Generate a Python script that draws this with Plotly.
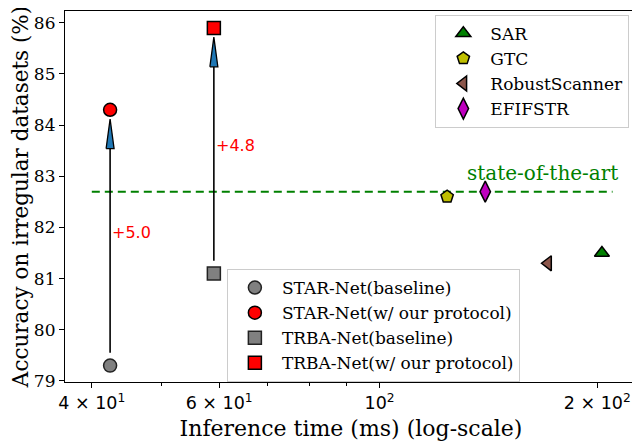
import math

import plotly.graph_objects as go

# ── Data ──
base_names = ["STAR-Net", "TRBA-Net"]
base_time = [42.4, 59.0]
base_acc = [79.3, 81.1]
ours_acc = [84.3, 85.9]
base_symbols = ["circle", "square"]

other_names = ["SAR", "GTC", "RobustScanner", "EFIFSTR"]
other_time = [203.0, 124.0, 171.0, 140.0]
other_acc = [81.5, 82.6, 81.3, 82.7]
other_symbols = ["triangle-up", "pentagon", "triangle-left", "diamond-tall"]
other_colors = ["#008000", "#bfbf00", "#8c564b", "#bf00bf"]

sota_acc = 82.7
sota_span = [40.0, 210.0]

x_tickvals = [40, 60, 100, 200]
x_ticktext = ["4 × 10<sup>1</sup>", "6 × 10<sup>1</sup>",
              "10<sup>2</sup>", "2 × 10<sup>2</sup>"]
x_minor = [50, 70, 80, 90]
y_tickvals = [79, 80, 81, 82, 83, 84, 85, 86]

SERIF = "DejaVu Serif"
SANS = "DejaVu Sans"

fig = go.Figure()

# ── state-of-the-art line ──
fig.add_trace(go.Scatter(
    x=sota_span, y=[sota_acc, sota_acc], mode="lines",
    line=dict(color="#008000", width=2, dash="8px,5px"),
    showlegend=False, hoverinfo="skip",
))

# ── improvement arrows (shaft + blue head) ──
head_len = 0.58
half_w = 0.0055  # decades
for xt, y0, y1 in zip(base_time, base_acc, ours_acc):
    start = y0 + 0.25
    tip = y1 - 0.18
    fig.add_trace(go.Scatter(
        x=[xt, xt], y=[start, tip - head_len], mode="lines",
        line=dict(color="black", width=1.6),
        showlegend=False, hoverinfo="skip",
    ))
    fig.add_trace(go.Scatter(
        x=[xt * 10 ** -half_w, xt, xt * 10 ** half_w, xt * 10 ** -half_w],
        y=[tip - head_len, tip, tip - head_len, tip - head_len],
        mode="lines", fill="toself", fillcolor="#1f77b4",
        line=dict(color="black", width=1.3),
        showlegend=False, hoverinfo="skip",
    ))

# ── other methods (legend 1) ──
for name, xt, acc, sym, col in zip(other_names, other_time, other_acc, other_symbols, other_colors):
    fig.add_trace(go.Scatter(
        x=[xt], y=[acc], mode="markers", name=name,
        marker=dict(symbol=sym, size=13 if sym != "diamond-tall" else 15, color=col,
                    line=dict(color="black", width=1.5)),
        legend="legend",
    ))

# ── baselines / ours (legend 2) ──
for name, xt, y0, y1, sym in zip(base_names, base_time, base_acc, ours_acc, base_symbols):
    fig.add_trace(go.Scatter(
        x=[xt], y=[y0], mode="markers", name=f"{name}(baseline)",
        marker=dict(symbol=sym, size=13, color="#808080",
                    line=dict(color="#222222", width=1.5)),
        legend="legend2",
    ))
    fig.add_trace(go.Scatter(
        x=[xt], y=[y1], mode="markers", name=f"{name}(w/ our protocol)",
        marker=dict(symbol=sym, size=13, color="#ff0000",
                    line=dict(color="black", width=1.5)),
        legend="legend2",
    ))

# gain labels
for xt, y0, y1, ylab in zip(base_time, base_acc, ours_acc, [81.9, 83.6]):
    fig.add_annotation(
        x=math.log10(xt), y=ylab, text=f"+{y1 - y0:.1f}", showarrow=False,
        xanchor="left", yanchor="middle", xshift=0,
        font=dict(family=SANS, size=16, color="#ff0000"),
    )

fig.add_annotation(
    x=math.log10(sota_span[1]), y=sota_acc, text="state-of-the-art", showarrow=False,
    xanchor="right", yanchor="bottom", xshift=7, yshift=5,
    font=dict(family=SERIF, size=20, color="#008000"),
)

fig.update_xaxes(
    type="log", range=[1.565, 2.356], automargin=False,
    tickvals=x_tickvals, ticktext=x_ticktext,
    ticks="outside", ticklen=5, tickwidth=1, tickcolor="black",
    minor=dict(tickvals=x_minor, ticks="outside", ticklen=3, tickcolor="black"),
    showline=True, linecolor="black", linewidth=1.2, mirror=True,
    showgrid=False, zeroline=False,
    tickfont=dict(family=SANS, size=17.5, color="black"),
    title=dict(text="Inference time (ms) (log-scale)", standoff=8,
               font=dict(family=SERIF, size=22, color="black")),
)
fig.update_yaxes(
    range=[78.98, 86.23], tickvals=y_tickvals, automargin=False,
    ticks="outside", ticklen=5, tickwidth=1, tickcolor="black",
    showline=True, linecolor="black", linewidth=1.2, mirror=True,
    showgrid=False, zeroline=False,
    tickfont=dict(family=SERIF, size=17, color="black"),
    title=dict(text="Accuracy on irregular datasets (%)", standoff=4,
               font=dict(family=SERIF, size=21.5, color="black")),
)

legend_style = dict(
    bgcolor="rgba(255,255,255,0.85)", bordercolor="#cccccc", borderwidth=1,
    font=dict(family=SERIF, size=17, color="black"), itemwidth=44,
)
# page body adds an 8px offset, so the figure is 632x435 inside the 640x443 window
fig.update_layout(
    width=632, height=435,
    margin=dict(l=57, r=3, t=3, b=61),
    plot_bgcolor="white", paper_bgcolor="white",
    legend=dict(x=0.9866, y=0.99, xanchor="right", yanchor="top", **legend_style),
    legend2=dict(x=0.283, y=0.0, xanchor="left", yanchor="bottom", **legend_style),
)

fig.write_html("out.html")
